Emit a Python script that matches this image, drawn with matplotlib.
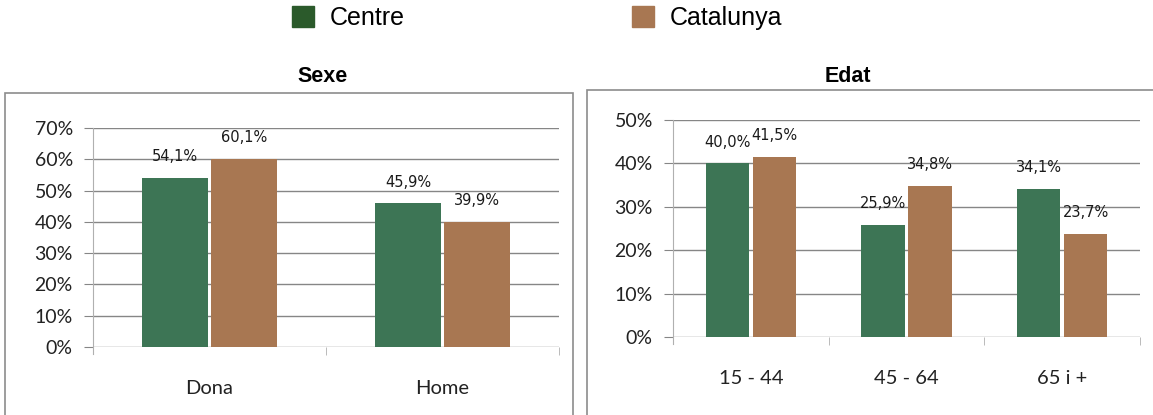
import matplotlib
matplotlib.use("Agg")
import matplotlib.pyplot as plt
from matplotlib.patches import Patch, Rectangle
from matplotlib.ticker import PercentFormatter
import numpy as np

series = ["Centre", "Catalunya"]
bar_colors = ["#3d7555", "#a87752"]
legend_colors = ["#2b5a2b", "#a87752"]

sexe_cats = ["Dona", "Home"]
sexe_centre = [54.1, 45.9]
sexe_catalunya = [60.1, 39.9]

edat_cats = ["15 - 44", "45 - 64", "65 i +"]
edat_centre = [40.0, 25.9, 34.1]
edat_catalunya = [41.5, 34.8, 23.7]

W, H = 1153, 415
fig = plt.figure(figsize=(W / 100, H / 100), dpi=100)
fig.patch.set_facecolor("white")

def px(x0, y0, x1, y1):
    return [x0 / W, (H - y1) / H, (x1 - x0) / W, (y1 - y0) / H]

# panel frames
for (x0, y0, x1) in [(5, 93, 573), (587, 90, 1160)]:
    fig.patches.append(Rectangle((x0 / W, -0.1), (x1 - x0) / W, (H - y0) / H + 0.1,
                                 transform=fig.transFigure, fill=False,
                                 edgecolor="#8c8c8c", linewidth=1.2))

tick_font = "Lato"

def draw(ax, cats, a, b, ymax, ystep, title, title_xy, w, gap):
    n = len(cats)
    x = np.arange(n)
    for vals, col, off in [(a, bar_colors[0], -(w + gap) / 2), (b, bar_colors[1], (w + gap) / 2)]:
        bs = ax.bar(x + off, vals, width=w, color=col, zorder=3)
        for rect, v in zip(bs, vals):
            ax.annotate(f"{v:.1f}%".replace(".", ","),
                        (rect.get_x() + rect.get_width() / 2, v),
                        xytext=(0, 10), textcoords="offset points",
                        ha="center", va="bottom", fontsize=10.5,
                        color="#1a1a1a", family="DejaVu Sans", zorder=4)
    ax.set_xlim(-0.5, n - 0.5)
    ax.set_ylim(0, ymax)
    ax.set_yticks(np.arange(0, ymax + 0.01, ystep))
    ax.yaxis.set_major_formatter(PercentFormatter(decimals=0))
    ax.grid(axis="y", color="#868686", linewidth=1.0, zorder=1)
    ax.set_axisbelow(True)
    for s in ["top", "right", "bottom"]:
        ax.spines[s].set_visible(False)
    ax.spines["left"].set_color("#b0b0b0")
    ax.spines["left"].set_bounds(-ymax * 0.03, ymax)
    ax.tick_params(axis="y", length=6.5, color="#868686", labelsize=14,
                   labelcolor="#222222", pad=8)
    ax.set_xticks(x)
    ax.set_xticklabels(cats)
    ax.set_xticks(np.arange(0.5, n, 1.0), minor=True)
    ax.tick_params(axis="x", which="major", length=0, pad=24, labelsize=14.5,
                   labelcolor="#222222")
    ax.tick_params(axis="x", which="minor", length=6, color="#b0b0b0", direction="out")
    for lab in ax.get_xticklabels() + ax.get_yticklabels():
        lab.set_family(tick_font)
    ax.set_facecolor("none")
    fig.text(title_xy[0] / W, 1 - title_xy[1] / H, title, ha="center", va="center",
             fontsize=15.5, fontweight="bold", family="Liberation Sans")

ax1 = fig.add_axes(px(93, 128, 559, 347))
draw(ax1, sexe_cats, sexe_centre, sexe_catalunya, 70, 10, "Sexe", (323, 77), 0.283, 0.013)

ax2 = fig.add_axes(px(673, 120, 1140, 337))
draw(ax2, edat_cats, edat_centre, edat_catalunya, 50, 10, "Edat", (848, 76), 0.28, 0.022)

handles = [Patch(facecolor=c, edgecolor=c) for c in legend_colors]
fig.legend(handles, series, loc="center", bbox_to_anchor=(537 / W, 1 - 18 / H),
           ncol=2, frameon=False, columnspacing=9.1, handlelength=0.88,
           handleheight=0.88, handletextpad=0.64, borderpad=0, borderaxespad=0,
           prop={"family": "Liberation Sans", "size": 18})

fig.savefig("out.png", dpi=100, facecolor="white")
